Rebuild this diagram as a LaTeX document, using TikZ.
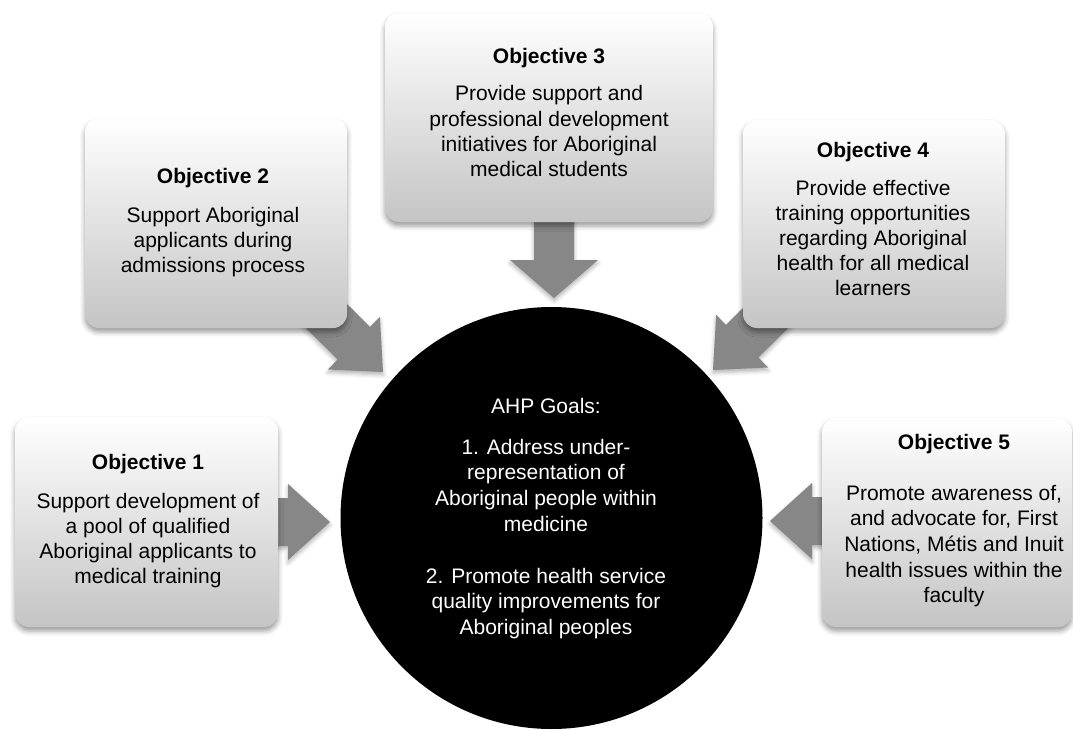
\documentclass[tikz,border=0pt]{standalone}
\usepackage{fontspec}
\setmainfont{Liberation Sans}
\usetikzlibrary{calc,shadows.blur}
\tikzset{
  objbox/.style={rounded corners=14pt, top color=white, bottom color=black!23, draw=none, inner sep=0pt,
    blur shadow={shadow xshift=0pt, shadow yshift=-4pt, shadow blur radius=5pt, shadow opacity=40}},
  arrowfill/.style={fill=black!47, draw=none,
    blur shadow={shadow xshift=0pt, shadow yshift=-3pt, shadow blur radius=4pt, shadow opacity=30}},
  goal/.style={circle, fill=black, draw=none, inner sep=0pt, minimum size=422pt},
  ttl/.style={font=\fontsize{21}{25.2}\selectfont\bfseries, anchor=base, inner sep=0pt},
  bdy/.style={font=\fontsize{21}{25.2}\selectfont, align=center, anchor=base, inner sep=0pt},
  wht/.style={text=white},
}
\newcommand{\fatarrow}[5]{%
  \coordinate (hb) at ($(#2)!#5!(#1)$);
  \path[arrowfill] ($(#1)!#3!90:(#2)$) -- ($(hb)!#3!90:(#2)$) -- ($(hb)!#4!90:(#2)$) -- (#2)
    -- ($(hb)!#4!-90:(#2)$) -- ($(hb)!#3!-90:(#2)$) -- ($(#1)!#3!-90:(#2)$) -- cycle;
}
\begin{document}
\begin{tikzpicture}[x=1pt,y=-1pt]
\useasboundingbox (0,0) rectangle (1073,730);

% arrow anchors
\coordinate (a1s) at (250,522);  \coordinate (a1e) at (330,522);
\coordinate (a2s) at (290,280);  \coordinate (a2e) at (383,372);
\coordinate (a3s) at (554,200);  \coordinate (a3e) at (554,298);
\coordinate (a4s) at (800,284);  \coordinate (a4e) at (713,370);
\coordinate (a5s) at (850,521);  \coordinate (a5e) at (770,521);

\fatarrow{a1s}{a1e}{24pt}{38pt}{42pt}
\fatarrow{a2s}{a2e}{23pt}{37pt}{41pt}
\fatarrow{a3s}{a3e}{20pt}{44pt}{38pt}
\fatarrow{a4s}{a4e}{23pt}{37pt}{41pt}
\fatarrow{a5s}{a5e}{24pt}{38pt}{42pt}

% boxes
\node[objbox, minimum width=263pt, minimum height=210pt] (obj1) at (146.5,522) {};
\node[objbox, minimum width=262pt, minimum height=210pt] (obj2) at (216,223) {};
\node[objbox, minimum width=328pt, minimum height=209pt] (obj3) at (549,117.5) {};
\node[objbox, minimum width=262pt, minimum height=208pt] (obj4) at (874,224) {};
\node[objbox, minimum width=250pt, minimum height=209pt] (obj5) at (947,522.5) {};

% circle
\node[goal] (goals) at (551.5,518) {};

% texts (multi-line nodes: base = baseline of last line)
\node[ttl] (t1) at (148,469) {Objective 1};
\node[bdy] (b1) at (148,583.6) {Support development of\\a pool of qualified\\Aboriginal applicants to\\medical training};

\node[ttl] (t2) at (213,184) {Objective 2};
\node[bdy] (b2) at (213,272.4) {Support Aboriginal\\applicants during\\admissions process};

\node[ttl] (t3) at (549,64) {Objective 3};
\node[bdy] (b3) at (549,176.6) {Provide support and\\professional development\\initiatives for Aboriginal\\medical students};

\node[ttl] (t4) at (873,158) {Objective 4};
\node[bdy] (b4) at (873,295.8) {Provide effective\\training opportunities\\regarding Aboriginal\\health for all medical\\learners};

\node[ttl] (t5) at (954,449) {Objective 5};
\node[bdy, font=\fontsize{21}{25.7}\selectfont] (b5) at (954,602.8) {Promote awareness of,\\and advocate for, First\\Nations, Métis and Inuit\\health issues within the\\faculty};

\node[bdy, wht] (gt) at (546,413) {AHP Goals:};
\node[bdy, wht, font=\fontsize{21}{25.8}\selectfont] (gb) at (546,634.6) {1. Address under-\\representation of\\Aboriginal people within\\medicine\\[25.8pt]2. Promote health service\\quality improvements for\\Aboriginal peoples};
\end{tikzpicture}
\end{document}
